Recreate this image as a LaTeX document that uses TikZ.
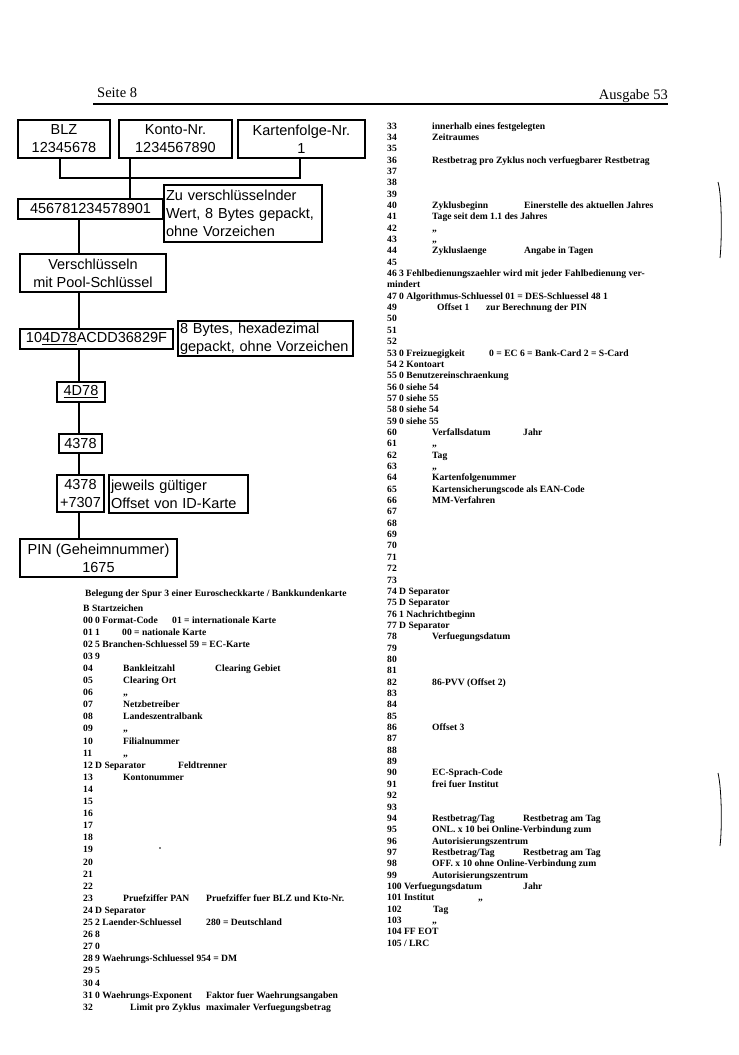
\documentclass[tikz,border=0pt]{standalone}
\usepackage{fontspec}
\setmainfont{Liberation Serif}
\newfontfamily\dsans{Liberation Sans}
\newcommand\lrow[4]{\node[txt] (#1) at (#2,{623+12.1*#3}) {#4};}
\newcommand\rrow[4]{\node[txt] (#1) at (#2,{129+11.35*#3}) {#4};}
\begin{document}
\begin{tikzpicture}[x=1pt,y=-1pt,
  box/.style={draw,line width=1.3pt,inner sep=0pt,font=\dsans\fontsize{14.5}{18}\selectfont,align=center},
  note/.style={box,align=left,inner xsep=2pt},
  txt/.style={inner sep=0pt,anchor=base west,font=\bfseries\fontsize{9.6}{10}\selectfont},
  ln/.style={line width=1.3pt}]
\useasboundingbox[fill=white] (0,0) rectangle (739,1055);
% header
\node[anchor=base west,inner sep=0pt,font=\fontsize{14.5}{16}\selectfont] (seite) at (97,97) {Seite 8};
\node[anchor=base east,inner sep=0pt,font=\fontsize{14.5}{16}\selectfont] (ausg) at (668,99) {Ausgabe 53};
\draw[line width=1.1pt] (93,104) -- (668,104);
% diagram
\node[box,minimum width=92,minimum height=38] (blz) at (64,139) {BLZ\\12345678};
\node[box,minimum width=113,minimum height=38] (konto) at (175.5,139) {Konto-Nr.\\1234567890};
\node[box,minimum width=127,minimum height=38] (kart) at (301.5,139) {Kartenfolge-Nr.\\1};
\node[box,minimum width=145,minimum height=20] (val) at (90.5,209) {456781234578901};
\node[note,text width=154,minimum height=57] (n1) at (243,213.5) {Zu verschlüsselnder\\Wert, 8 Bytes gepackt,\\ohne Vorzeichen};
\node[box,minimum width=146,minimum height=38] (enc) at (93,273) {Verschlüsseln\\mit Pool-Schlüssel};
\node[box,minimum width=153,minimum height=20] (hex) at (96.5,339) {10\underline{4D78}ACDD36829F};
\node[note,text width=171,minimum height=35] (n2) at (265.5,338.5) {8 Bytes, hexadezimal\\gepackt, ohne Vorzeichen};
\node[box,minimum width=48,minimum height=20] (d78) at (81,392) {\underline{4D78}};
\node[box,minimum width=43,minimum height=19] (f4378) at (80.5,443.5) {4378};
\node[box,minimum width=47,minimum height=37] (sum) at (80.5,493.5) {4378\\+7307};
\node[note,text width=135,minimum height=38] (n3) at (178.5,494) {jeweils gültiger\\Offset von ID-Karte};
\node[box,minimum width=157,minimum height=38] (pin) at (98.5,558) {PIN (Geheimnummer)\\1675};
\coordinate (jn) at (130,178);
\coordinate (ax) at (79,0);
\draw[ln] ([xshift=-4pt]blz.south) |- (jn) -| ([xshift=-1.5pt]kart.south);
\draw[ln] (konto.south -| jn) -- (val.north -| jn);
\draw[ln] (val.south -| ax) -- (enc.north -| ax);
\draw[ln] (enc.south -| ax) -- (hex.north -| ax);
\draw[ln] (hex.south -| ax) -- (d78.north -| ax);
\draw[ln] (d78.south -| ax) -- (f4378.north -| ax);
\draw[ln] (f4378.south -| ax) -- (sum.north -| ax);
\draw[ln] (sum.south -| ax) -- (pin.north -| ax);
% margin marks
\draw[line width=0.8pt] (718,182) .. controls (722,195) and (722,240) .. (720,258);
\draw[line width=0.8pt] (718,773) .. controls (722,790) and (722,830) .. (720,846);
% left column
\node[txt] (ltitle) at (85,596) {Belegung der Spur 3 einer Euroscheckkarte / Bankkundenkarte};
\node[txt] (lB) at (83,611) {B Startzeichen};
\lrow{l00}{83}{0}{00 0 Format-Code}
\lrow{l00b}{172}{0}{01 = internationale Karte}
\lrow{l01}{83}{1}{01 1}
\lrow{l01b}{122}{1}{00 = nationale Karte}
\lrow{l02}{83}{2}{02 5 Branchen-Schluessel 59 = EC-Karte}
\lrow{l03}{83}{3}{03 9}
\foreach \n/\r in {04/4,05/5,06/6,07/7,08/8,09/9,10/10,11/11,13/13,14/14,15/15,16/16,17/17,18/18,19/19,20/20,21/21,22/22,23/23,32/32}
  {\lrow{ln\n}{83}{\r}{\n}}
\lrow{l04b}{123}{4}{Bankleitzahl}
\lrow{l04c}{215}{4}{Clearing Gebiet}
\lrow{l05b}{123}{5}{Clearing Ort}
\lrow{l06b}{123}{6}{„}
\lrow{l07b}{123}{7}{Netzbetreiber}
\lrow{l08b}{123}{8}{Landeszentralbank}
\lrow{l09b}{123}{9}{„}
\lrow{l10b}{123}{10}{Filialnummer}
\lrow{l11b}{123}{11}{„}
\lrow{l12}{83}{12}{12 D Separator}
\lrow{l12b}{178}{12}{Feldtrenner}
\lrow{l13b}{123}{13}{Kontonummer}
\lrow{l23b}{123}{23}{Pruefziffer PAN}
\lrow{l23c}{206}{23}{Pruefziffer fuer BLZ und Kto-Nr.}
\lrow{l24}{83}{24}{24 D Separator}
\lrow{l25}{83}{25}{25 2 Laender-Schluessel}
\lrow{l25c}{206}{25}{280 = Deutschland}
\lrow{l26}{83}{26}{26 8}
\lrow{l27}{83}{27}{27 0}
\lrow{l28}{83}{28}{28 9 Waehrungs-Schluessel 954 = DM}
\lrow{l29}{83}{29}{29 5}
\lrow{l30}{83}{30}{30 4}
\lrow{l31}{83}{31}{31 0 Waehrungs-Exponent}
\lrow{l31c}{206}{31}{Faktor fuer Waehrungsangaben}
\lrow{l32b}{130}{32}{Limit pro Zyklus}
\lrow{l32c}{206}{32}{maximaler Verfuegungsbetrag}
\fill (160,848) circle (0.8);
% right column
\foreach \n/\r in {33/0,34/1,35/2,36/3,37/4,38/5,39/6,40/7,41/8,42/9,43/10,44/11,45/12,49/16,50/17,51/18,52/19,60/27,61/28,62/29,63/30,64/31,65/32,66/33,67/34,68/35,69/36,70/37,71/38,72/39,73/40,78/45,79/46,80/47,81/48,82/49,83/50,84/51,85/52,86/53,87/54,88/55,89/56,90/57,91/58,92/59,93/60,94/61,95/62,96/63,97/64,98/65,99/66,102/69,103/70}
  {\rrow{rn\n}{387}{\r}{\n}}
\rrow{r33}{432}{0}{innerhalb eines festgelegten}
\rrow{r34}{432}{1}{Zeitraumes}
\rrow{r36}{432}{3}{Restbetrag pro Zyklus noch verfuegbarer Restbetrag}
\rrow{r40}{432}{7}{Zyklusbeginn}
\rrow{r40c}{524}{7}{Einerstelle des aktuellen Jahres}
\rrow{r41}{432}{8}{Tage seit dem 1.1 des Jahres}
\rrow{r42}{432}{9}{„}
\rrow{r43}{432}{10}{„}
\rrow{r44}{432}{11}{Zykluslaenge}
\rrow{r44c}{524}{11}{Angabe in Tagen}
\rrow{r46}{387}{13}{46 3 Fehlbedienungszaehler wird mit jeder Fahlbedienung ver-}
\rrow{r46b}{387}{14}{mindert}
\rrow{r47}{387}{15}{47 0 Algorithmus-Schluessel 01 = DES-Schluessel 48 1}
\rrow{r49}{437}{16}{Offset 1}
\rrow{r49c}{486}{16}{zur Berechnung der PIN}
\rrow{r53}{387}{20}{53 0 Freizuegigkeit}
\rrow{r53c}{489}{20}{0 = EC 6 = Bank-Card 2 = S-Card}
\rrow{r54}{387}{21}{54 2 Kontoart}
\rrow{r55}{387}{22}{55 0 Benutzereinschraenkung}
\rrow{r56}{387}{23}{56 0 siehe 54}
\rrow{r57}{387}{24}{57 0 siehe 55}
\rrow{r58}{387}{25}{58 0 siehe 54}
\rrow{r59}{387}{26}{59 0 siehe 55}
\rrow{r60}{432}{27}{Verfallsdatum}
\rrow{r60c}{523}{27}{Jahr}
\rrow{r61}{432}{28}{„}
\rrow{r62}{432}{29}{Tag}
\rrow{r63}{432}{30}{„}
\rrow{r64}{432}{31}{Kartenfolgenummer}
\rrow{r65}{432}{32}{Kartensicherungscode als EAN-Code}
\rrow{r66}{432}{33}{MM-Verfahren}
\rrow{r74}{387}{41}{74 D Separator}
\rrow{r75}{387}{42}{75 D Separator}
\rrow{r76}{387}{43}{76 1 Nachrichtbeginn}
\rrow{r77}{387}{44}{77 D Separator}
\rrow{r78}{432}{45}{Verfuegungsdatum}
\rrow{r82}{432}{49}{86-PVV (Offset 2)}
\rrow{r86}{432}{53}{Offset 3}
\rrow{r90}{432}{57}{EC-Sprach-Code}
\rrow{r91}{432}{58}{frei fuer Institut}
\rrow{r94}{432}{61}{Restbetrag/Tag}
\rrow{r94c}{523}{61}{Restbetrag am Tag}
\rrow{r95}{432}{62}{ONL. x 10 bei Online-Verbindung zum}
\rrow{r96}{432}{63}{Autorisierungszentrum}
\rrow{r97}{432}{64}{Restbetrag/Tag}
\rrow{r97c}{523}{64}{Restbetrag am Tag}
\rrow{r98}{432}{65}{OFF. x 10 ohne Online-Verbindung zum}
\rrow{r99}{432}{66}{Autorisierungszentrum}
\rrow{r100}{387}{67}{100 Verfuegungsdatum}
\rrow{r100c}{523}{67}{Jahr}
\rrow{r101}{387}{68}{101 Institut}
\rrow{r101c}{478}{68}{„}
\rrow{r102}{433}{69}{Tag}
\rrow{r103}{432}{70}{„}
\rrow{r104}{387}{71}{104 FF EOT}
\rrow{r105}{387}{72}{105 / LRC}
\end{tikzpicture}
\end{document}
